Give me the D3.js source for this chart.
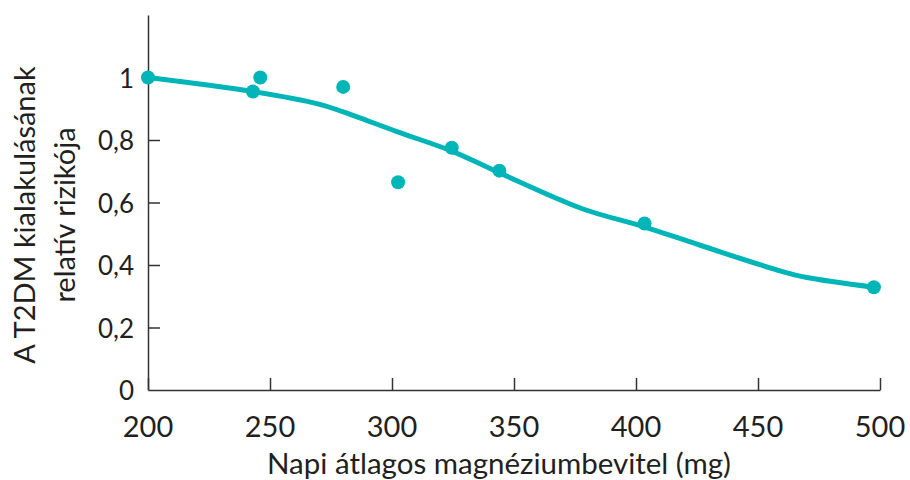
<!DOCTYPE html>
<html>
  <head>
    <meta charset="utf-8">
    <title>Magnézium és T2DM kockázat</title>
    <script src="https://cdn.jsdelivr.net/npm/d3@7"></script>
    <style>
      body { margin: 0; background: #fff; }
      text { font-family: Lato, "Open Sans", sans-serif; fill: #231f20; }
    </style>
  </head>
  <body>
    <svg width="910" height="480" id="mainsvg"></svg>
    <script>

    // measured points (mg/day, relative risk)
    const pointX = [200, 243, 246, 280, 302.5, 324.5, 344, 403.5, 497.5];
    const pointY = [1.0, 0.955, 1.0, 0.97, 0.665, 0.775, 0.702, 0.533, 0.329];

    // fitted curve
    const curveX = [200, 243, 270, 280, 302, 325, 344, 378, 403, 426, 460, 470, 497.5];
    const curveY = [1.0, 0.955, 0.915, 0.89, 0.827, 0.763, 0.695, 0.58, 0.523, 0.464, 0.379, 0.36, 0.329];

    const xTicks = [200, 250, 300, 350, 400, 450, 500];
    const yTicks = [0, 0.2, 0.4, 0.6, 0.8, 1];

    const teal = '#00b5b8';
    const ink = '#333';

    let svg = d3.select('svg');

    const x = d3.scaleLinear().domain([200, 500]).range([148, 880]);
    const y = d3.scaleLinear().domain([0, 1.2]).range([390, 15]);

    // axes: ticks point inward
    const xAxis = svg.append('g').attr('transform', 'translate(0,390)')
        .call(d3.axisTop(x).tickValues(xTicks).tickSize(12).tickFormat('').tickSizeOuter(0));
    const yAxis = svg.append('g').attr('transform', 'translate(148,0)')
        .call(d3.axisRight(y).tickValues(yTicks.filter(d => d > 0)).tickSize(12).tickFormat('').tickSizeOuter(0));
    svg.selectAll('.domain, .tick line').attr('stroke', ink).attr('stroke-width', 1.5);

    // tick labels
    svg.append('g').selectAll('text').data(xTicks).enter().append('text')
        .attr('x', d => x(d)).attr('y', 437)
        .attr('text-anchor', 'middle').attr('font-size', 29)
        .text(d => d);
    svg.append('g').selectAll('text').data(yTicks).enter().append('text')
        .attr('x', 134).attr('y', d => y(d) + 10)
        .attr('text-anchor', 'end').attr('font-size', 26)
        .text(d => String(d).replace('.', ','));

    // axis titles
    svg.append('text').attr('x', 499).attr('y', 474)
        .attr('text-anchor', 'middle').attr('font-size', 29.5)
        .text('Napi átlagos magnéziumbevitel (mg)');
    const yTitle = svg.append('text').attr('transform', 'translate(0,215) rotate(-90)')
        .attr('text-anchor', 'middle').attr('font-size', 29);
    yTitle.append('tspan').attr('x', 0).attr('y', 35).text('A T2DM kialakulásának');
    yTitle.append('tspan').attr('x', 0).attr('y', 75).text('relatív rizikója');

    // curve
    const line = d3.line()
        .x(d => x(d[0])).y(d => y(d[1]))
        .curve(d3.curveCatmullRom);
    svg.append('path')
        .datum(d3.zip(curveX, curveY))
        .attr('d', line)
        .attr('fill', 'none').attr('stroke', teal).attr('stroke-width', 5)
        .attr('stroke-linecap', 'round');

    // points
    svg.append('g').selectAll('circle').data(d3.zip(pointX, pointY)).enter().append('circle')
        .attr('cx', d => x(d[0])).attr('cy', d => y(d[1])).attr('r', 7)
        .attr('fill', teal);

  </script>
  </body>
</html>
